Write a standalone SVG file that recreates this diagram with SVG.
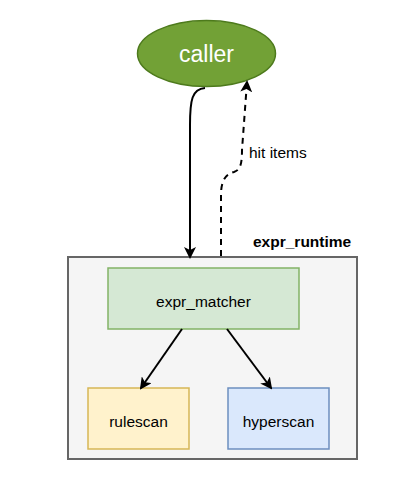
<svg xmlns="http://www.w3.org/2000/svg" width="418" height="488" viewBox="0 0 418 488">
<style>
text{font-family:"Liberation Sans",Arial,Helvetica,sans-serif;fill:#000}
.c{stroke:#000;stroke-width:2;fill:none}
.lbl{font-size:15.5px;text-anchor:middle}
</style>
<defs>
<marker id="ah" markerWidth="12" markerHeight="12" viewBox="0 0 12 12" refX="10" refY="6" orient="auto" markerUnits="userSpaceOnUse">
<path d="M0,0 L12,6 L0,12 L3,6 Z" fill="#000"/>
</marker>
</defs>
<rect width="418" height="488" fill="#fff"/>
<g id="expr_runtime">
<rect x="68" y="257" width="289" height="202" fill="#f5f5f5" stroke="#666666" stroke-width="2"/>
<text x="253" y="247" style="font-size:15.5px;font-weight:bold">expr_runtime</text>
</g>
<g id="caller">
<ellipse cx="206.5" cy="53.5" rx="69" ry="33" fill="#72a136" stroke="#4d7a1c" stroke-width="1.5"/>
<text x="206.5" y="62" style="font-size:23px;text-anchor:middle;fill:#fff">caller</text>
</g>
<g id="expr_matcher">
<rect x="108" y="268" width="191" height="61" fill="#d5e8d4" stroke="#82b366" stroke-width="1.5"/>
<text x="203.5" y="307" class="lbl">expr_matcher</text>
</g>
<g id="rulescan">
<rect x="88" y="388" width="101" height="61" fill="#fff2cc" stroke="#d6b656" stroke-width="1.5"/>
<text x="138.5" y="427" class="lbl">rulescan</text>
</g>
<g id="hyperscan">
<rect x="228" y="388" width="101" height="61" fill="#dae8fc" stroke="#6c8ebf" stroke-width="1.5"/>
<text x="278.5" y="427" class="lbl">hyperscan</text>
</g>
<g id="connectors">
<path class="c" d="M205,88 C192,89 190,100 190,125 L190,257" marker-end="url(#ah)"/>
<path class="c" d="M221,256 L221,195 C221,180 226,174 234,172 C240,170 242,165 242,150 L247,82" stroke-dasharray="6,5" marker-end="url(#ah)"/>
<text x="249" y="158" style="font-size:15.5px">hit items</text>
<path class="c" d="M182,329 L141,388" marker-end="url(#ah)"/>
<path class="c" d="M227,329 L271,388" marker-end="url(#ah)"/>
</g>
</svg>
